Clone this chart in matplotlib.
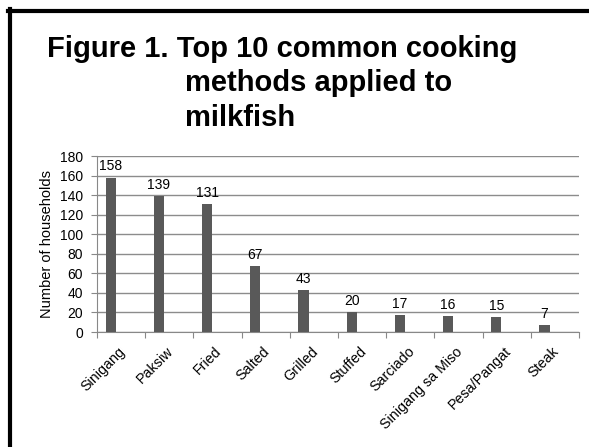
import matplotlib.pyplot as plt
import matplotlib.transforms as mtransforms
from matplotlib.lines import Line2D

methods = ["Sinigang", "Paksiw", "Fried", "Salted", "Grilled", "Stuffed",
           "Sarciado", "Sinigang sa Miso", "Pesa/Pangat", "Steak"]
households = [158, 139, 131, 67, 43, 20, 17, 16, 15, 7]
y_ticks = list(range(0, 181, 20))

W, H = 589, 447
plt.rcParams['font.family'] = ['Liberation Sans', 'DejaVu Sans']

fig = plt.figure(figsize=(W / 100, H / 100), dpi=100)
ax = fig.add_axes([97 / W, 1 - 332 / H, (579 - 97) / W, (332 - 156) / H])

# bars sit left of the category centre (first of an Excel cluster)
x = list(range(len(methods)))
bar_x = [xi - 0.215 for xi in x]
ax.bar(bar_x, households, width=0.21, color="#595959", zorder=3)
for bx, v in zip(bar_x, households):
    ax.annotate(str(v), (bx, v), xytext=(0, 3), textcoords="offset points",
                ha="center", va="bottom", fontsize=10)

ax.set_xlim(-0.5, len(methods) - 0.5)
ax.set_ylim(0, 180)
ax.set_yticks(y_ticks)
ax.tick_params(axis='y', labelsize=10, length=4, color="#888888", pad=6)
ax.yaxis.grid(True, color="#8c8c8c", linewidth=1, zorder=0)

ax.set_xticks([i - 0.5 for i in range(len(methods) + 1)])
ax.set_xticklabels([])
ax.tick_params(axis='x', length=4, color="#888888")
ax.set_xticks(x, minor=True)
ax.set_xticklabels(methods, minor=True, rotation=45, ha="right", va="top",
                   rotation_mode="anchor", fontsize=10.3)
ax.tick_params(axis='x', which='minor', length=0, pad=9)
shift = mtransforms.ScaledTranslation(-3 / 100, 0, fig.dpi_scale_trans)
for lab in ax.get_xticklabels(minor=True):
    lab.set_transform(lab.get_transform() + shift)

for side in ["top", "right"]:
    ax.spines[side].set_visible(False)
ax.spines["left"].set_color("#888888")
ax.spines["bottom"].set_color("#888888")

ax.set_ylabel("Number of households", fontsize=10.5, labelpad=4)

title_kw = dict(fontsize=21, fontweight="bold", va="baseline")
fig.text(47 / W, 1 - 57 / H, "Figure 1. Top 10 common cooking", **title_kw)
fig.text(185 / W, 1 - 91 / H, "methods applied to", **title_kw)
fig.text(185 / W, 1 - 126.5 / H, "milkfish", **title_kw)

# slide frame (left and top edges)
fig.add_artist(Line2D([10.3 / W, 10.3 / W], [0, 1 - 9.3 / H], color="black",
                      linewidth=3, transform=fig.transFigure))
fig.add_artist(Line2D([8.3 / W, 1], [1 - 11.3 / H, 1 - 11.3 / H], color="black",
                      linewidth=3, transform=fig.transFigure))

fig.savefig("out.png", dpi=100)
